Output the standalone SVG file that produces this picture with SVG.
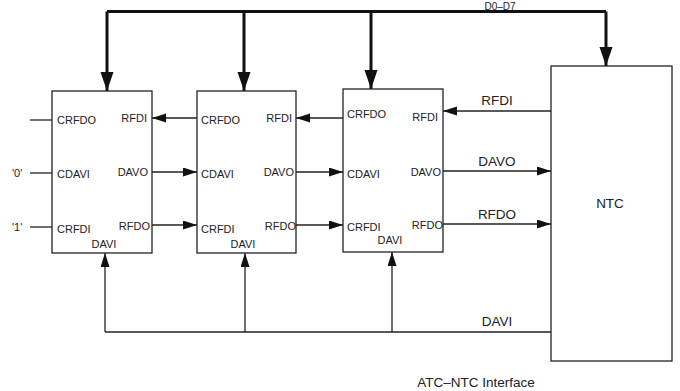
<svg xmlns="http://www.w3.org/2000/svg" width="680" height="391" viewBox="0 0 680 391">
<style>
.box{fill:#fff;stroke:#222;stroke-width:1.3}
.ln{fill:none;stroke:#222;stroke-width:1.3}
.bus{fill:none;stroke:#111;stroke-width:3}
.t{font-family:"Liberation Sans",Arial,sans-serif;font-size:11px;fill:#222}
.L{font-family:"Liberation Sans",Arial,sans-serif;font-size:13.5px;fill:#222}
.e{text-anchor:end}
.m{text-anchor:middle}
</style>
<defs>
<marker id="a" markerUnits="userSpaceOnUse" markerWidth="15" markerHeight="10" refX="14" refY="4.5" orient="auto"><path d="M0,0 L14,4.5 L0,9 z" fill="#111"/></marker>
<marker id="b" markerUnits="userSpaceOnUse" markerWidth="20" markerHeight="14" refX="19" refY="6.5" orient="auto"><path d="M0,0 L19,6.5 L0,13 z" fill="#111"/></marker>
</defs>
<rect width="680" height="391" fill="#fff"/>
<g id="connectors">
<path class="bus" d="M107,11.5 H606"/>
<path class="bus" d="M107,11.5 V91" marker-end="url(#b)"/>
<path class="bus" d="M244,11.5 V91" marker-end="url(#b)"/>
<path class="bus" d="M371,11.5 V89" marker-end="url(#b)"/>
<path class="bus" d="M606,11.5 V66" marker-end="url(#b)"/>
<path class="ln" d="M30,120 H52"/>
<path class="ln" d="M30,173 H52"/>
<path class="ln" d="M30,227 H52"/>
<path class="ln" d="M197,118 H152" marker-end="url(#a)"/>
<path class="ln" d="M152,172 H197" marker-end="url(#a)"/>
<path class="ln" d="M152,225 H197" marker-end="url(#a)"/>
<path class="ln" d="M343,118 H296" marker-end="url(#a)"/>
<path class="ln" d="M296,172 H343" marker-end="url(#a)"/>
<path class="ln" d="M296,225 H343" marker-end="url(#a)"/>
<path class="ln" d="M551,111 H443" marker-end="url(#a)"/>
<path class="ln" d="M443,171 H551" marker-end="url(#a)"/>
<path class="ln" d="M443,224 H551" marker-end="url(#a)"/>
<path class="ln" d="M105,332 H551"/>
<path class="ln" d="M105,332 V253" marker-end="url(#a)"/>
<path class="ln" d="M245,332 V253" marker-end="url(#a)"/>
<path class="ln" d="M392,332 V252" marker-end="url(#a)"/>
<text class="L m" x="500" y="9.6" style="font-size:10px">D0–D7</text>
<text class="L m" x="497" y="105">RFDI</text>
<text class="L m" x="497" y="166">DAVO</text>
<text class="L m" x="497" y="219">RFDO</text>
<text class="L m" x="497" y="326">DAVI</text>
<text class="t" x="12" y="177">'0'</text>
<text class="t" x="12" y="231">'1'</text>
</g>
<g id="atc1">
<rect class="box" x="52" y="91" width="100" height="162"/>
<text class="t" x="57" y="124">CRFDO</text>
<text class="t e" x="147" y="122">RFDI</text>
<text class="t" x="57" y="178">CDAVI</text>
<text class="t e" x="148" y="176">DAVO</text>
<text class="t" x="57" y="233">CRFDI</text>
<text class="t e" x="150" y="230">RFDO</text>
<text class="t m" x="104" y="248">DAVI</text>
</g>
<g id="atc2">
<rect class="box" x="197" y="91" width="99" height="162"/>
<text class="t" x="201" y="124">CRFDO</text>
<text class="t e" x="292" y="122">RFDI</text>
<text class="t" x="201" y="178">CDAVI</text>
<text class="t e" x="294" y="176">DAVO</text>
<text class="t" x="201" y="233">CRFDI</text>
<text class="t e" x="296" y="230">RFDO</text>
<text class="t m" x="243" y="248">DAVI</text>
</g>
<g id="atc3">
<rect class="box" x="343" y="89" width="100" height="163"/>
<text class="t" x="347" y="118">CRFDO</text>
<text class="t e" x="438" y="121">RFDI</text>
<text class="t" x="347" y="178">CDAVI</text>
<text class="t e" x="441" y="176">DAVO</text>
<text class="t" x="347" y="231">CRFDI</text>
<text class="t e" x="443" y="229">RFDO</text>
<text class="t m" x="390" y="244">DAVI</text>
</g>
<g id="ntc">
<rect class="box" x="551" y="66" width="121" height="295"/>
<text class="L m" x="610" y="208">NTC</text>
</g>
<text class="L m" x="476" y="387">ATC–NTC Interface</text>
</svg>
